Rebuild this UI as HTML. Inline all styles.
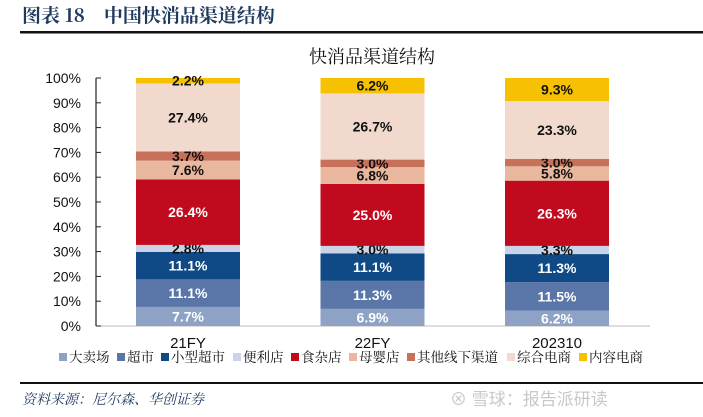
<!DOCTYPE html>
<html><head><meta charset="utf-8"><style>
body{margin:0;background:#fff;width:703px;height:412px;overflow:hidden;font-family:"Liberation Sans","Noto Sans CJK SC",sans-serif}
</style></head><body>
<svg width="703" height="412" xmlns="http://www.w3.org/2000/svg">
<text x="22" y="22" font-size="19" font-weight="bold" fill="#1f3a5f" font-family="'Noto Serif CJK SC',serif">图表 18　中国快消品渠道结构</text>
<rect x="20" y="31" width="683" height="2.5" fill="#111"/>
<text x="372" y="63" font-size="18" text-anchor="middle" fill="#111" font-family="'Noto Serif CJK SC',serif">快消品渠道结构</text>
<g id="axis"></g>
<g id="bars"></g>
<g id="legend"></g>
<rect x="20" y="382" width="683" height="2" fill="#111"/>
<text x="22" y="404" font-size="14" font-style="italic" fill="#1f3a5f" font-family="'Noto Serif CJK SC',serif">资料来源：尼尔森、华创证券</text>
<text x="450" y="405" font-size="17" fill="#c8c8c8">⊗ 雪球：报告派研读</text>
</svg>
<script>
const categories=["21FY","22FY","202310"];
const seriesNames=["大卖场","超市","小型超市","便利店","食杂店","母婴店","其他线下渠道","综合电商","内容电商"];
const s21FY=[7.7,11.1,11.1,2.8,26.4,7.6,3.7,27.4,2.2];
const s22FY=[6.9,11.3,11.1,3.0,25.0,6.8,3.0,26.7,6.2];
const s202310=[6.2,11.5,11.3,3.3,26.3,5.8,3.0,23.3,9.3];
const yTicks=[0,10,20,30,40,50,60,70,80,90,100];
const values=[s21FY,s22FY,s202310];
const colors=["#8ea2c6","#5a76a8","#0f4a86","#c9d4e6","#c10a1e","#e8b79d","#c7705a","#f1d9cd","#f6c100"];
const textCol=["#fff","#fff","#fff","#111","#fff","#111","#111","#111","#111"];
const NS="http://www.w3.org/2000/svg";
const y0=326,y1=78,x0=96;
const y=v=>y0-(v/100)*(y0-y1);
const bw=104,cx=i=>188+i*184.5;
function el(t,a,p){const e=document.createElementNS(NS,t);for(const k in a)e.setAttribute(k,a[k]);p.appendChild(e);return e;}
const ax=document.getElementById('axis'),bg=document.getElementById('bars'),lg=document.getElementById('legend');
const axl=el('line',{x1:x0,y1:y0,x2:x0,y2:y1,stroke:'#222','stroke-width':1.2},ax);

const bl=el('line',{x1:x0,y1:y0,x2:650,y2:y0,stroke:'#bbb','stroke-width':1},ax);

yTicks.forEach(t=>{
 const tk=el('line',{x1:x0,y1:y(t),x2:x0+5,y2:y(t),stroke:'#222'},ax);
 
 const tx=el('text',{x:81,y:y(t)+5,'font-size':14,'text-anchor':'end',fill:'#111'},ax);
 tx.textContent=t+'%';
 
});
values.forEach((vals,i)=>{
 let acc=0;
 vals.forEach((v,j)=>{
  const top=y(acc+v),bot=y(acc);
  const r=el('rect',{x:cx(i)-bw/2,y:top,width:bw,height:Math.max(0,bot-top),fill:colors[j]},bg);
  
  const t=el('text',{x:cx(i),y:(top+bot)/2+5,'font-size':14,'font-weight':'bold','text-anchor':'middle',fill:textCol[j]},bg);
  t.textContent=v.toFixed(1)+'%';
  
  acc+=v;
 });
 const c=el('text',{x:cx(i),y:348,'font-size':15,'text-anchor':'middle',fill:'#111'},bg);
 c.textContent=categories[i];
 
});
let lx=59;
seriesNames.forEach((n,j)=>{
 const r=el('rect',{x:lx,y:353,width:8,height:8,fill:colors[j]},lg);
 
 const t=el('text',{x:lx+10,y:362,'font-size':13.5,fill:'#111','font-family':"'Noto Serif CJK SC',serif"},lg);
 t.textContent=n;
 
 lx+=10+n.length*14+6;
});
</script>
</body></html>
